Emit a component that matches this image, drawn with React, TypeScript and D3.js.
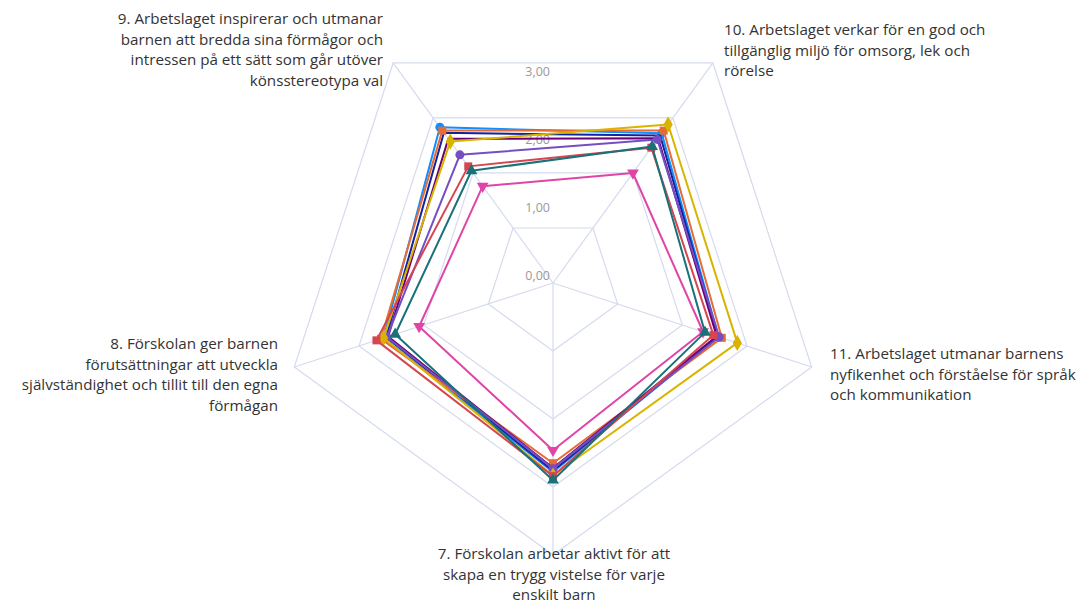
import React from "react";
import * as d3 from "d3";

const categories: string[][] = [
  ["7. Förskolan arbetar aktivt för att", "skapa en trygg vistelse för varje", "enskilt barn"],
  ["8. Förskolan ger barnen", "förutsättningar att utveckla", "självständighet och tillit till den egna", "förmågan"],
  ["9. Arbetslaget inspirerar och utmanar", "barnen att bredda sina förmågor och", "intressen på ett sätt som går utöver", "könsstereotypa val"],
  ["10. Arbetslaget verkar för en god och", "tillgänglig miljö för omsorg, lek och", "rörelse"],
  ["11. Arbetslaget utmanar barnens", "nyfikenhet och förståelse för språk", "och kommunikation"],
];

const tickValues = [0, 1, 2, 3];
const ringValues = [1, 2, 3, 4];

const s1 = [2.78, 2.62, 2.83, 2.72, 2.56];
const s2 = [2.76, 2.58, 2.73, 2.68, 2.55];
const s3 = [2.65, 2.66, 2.77, 2.77, 2.61];
const s4 = [2.72, 2.55, 2.62, 2.63, 2.53];
const s5 = [2.46, 2.07, 1.76, 2.0, 2.32];
const s6 = [2.73, 2.57, 2.33, 2.61, 2.57];
const s7 = [2.83, 2.62, 2.57, 2.88, 2.85];
const s8 = [2.84, 2.73, 2.12, 2.46, 2.48];
const s9 = [2.9, 2.44, 2.04, 2.48, 2.35];

const seriesValues = [s1, s2, s3, s4, s5, s6, s7, s8, s9];
const seriesColors = ["#118DFF", "#12239E", "#E66C37", "#6B007B", "#E044A7", "#744EC2", "#D9B300", "#D64550", "#197278"];
const seriesMarkers = ["circle", "none", "square", "none", "triangleDown", "circle", "diamond", "square", "triangle"];

// layout for category labels
const labelLayout = [
  { x: 554, y: 553, anchor: "middle" },
  { x: 278, y: 343, anchor: "end" },
  { x: 383, y: 18, anchor: "end" },
  { x: 724, y: 29, anchor: "start" },
  { x: 830, y: 353, anchor: "start" },
];

const W = 1082;
const H = 600;
const cx = 553;
const cy = 283;
const R = 272;

export default function App() {
  const r = d3.scaleLinear().domain([0, 4]).range([0, R]);
  const n = categories.length;
  const angle = (i: number) => (i * 2 * Math.PI) / n;
  const pt = (i: number, v: number): [number, number] => [
    cx - r(v) * Math.sin(angle(i)),
    cy + r(v) * Math.cos(angle(i)),
  ];
  const line = d3.line<[number, number]>().curve(d3.curveLinearClosed);

  const symbolFor = (m: string) => {
    switch (m) {
      case "circle":
        return d3.symbol().type(d3.symbolCircle).size(64)();
      case "square":
        return d3.symbol().type(d3.symbolSquare).size(64)();
      case "diamond":
        return d3.symbol().type(d3.symbolDiamond).size(75)();
      case "triangle":
        return d3.symbol().type(d3.symbolTriangle).size(60)();
      case "triangleDown":
        return d3.symbol().type(d3.symbolTriangle).size(60)();
      default:
        return null;
    }
  };

  return (
    <svg width={W} height={H} style={{ position: "absolute", left: 0, top: 0, background: "#fff" }}>
      <g>
        {ringValues.map((v) => (
          <path
            key={v}
            d={line(d3.range(n).map((i) => pt(i, v))) || ""}
            fill="none"
            stroke="#d5dbee"
            strokeWidth={1.2}
          />
        ))}
        {d3.range(n).map((i) => {
          const [x, y] = pt(i, 4);
          return <line key={i} x1={cx} y1={cy} x2={x} y2={y} stroke="#d5dbee" strokeWidth={1.2} />;
        })}
        {tickValues.map((v) => (
          <text
            key={v}
            x={550}
            y={cy - r(v) - 8}
            textAnchor="end"
            dominantBaseline="central"
            fontFamily="'Open Sans', sans-serif"
            fontSize={12.5}
            fill="#999"
          >
            {v.toFixed(2).replace(".", ",")}
          </text>
        ))}
      </g>
      {seriesValues.map((vals, si) => {
        const pts = vals.map((v, i) => pt(i, v));
        const sym = symbolFor(seriesMarkers[si]);
        return (
          <g key={si}>
            <path d={line(pts) || ""} fill="none" stroke={seriesColors[si]} strokeWidth={2} strokeLinejoin="round" />
            {sym &&
              pts.map(([x, y], i) => (
                <path
                  key={i}
                  d={sym}
                  transform={`translate(${x},${y})${seriesMarkers[si] === "triangleDown" ? " rotate(180)" : ""}`}
                  fill={seriesColors[si]}
                />
              ))}
          </g>
        );
      })}
      {categories.map((lines, i) => {
        const L = labelLayout[i];
        return (
          <text
            key={i}
            textAnchor={L.anchor as any}
            fontFamily="'Open Sans', sans-serif"
            fontSize={15.2}
            fill="#333"
          >
            {lines.map((t, k) => (
              <tspan key={k} x={L.x} y={L.y + k * 20.5} dominantBaseline="central">
                {t}
              </tspan>
            ))}
          </text>
        );
      })}
    </svg>
  );
}
